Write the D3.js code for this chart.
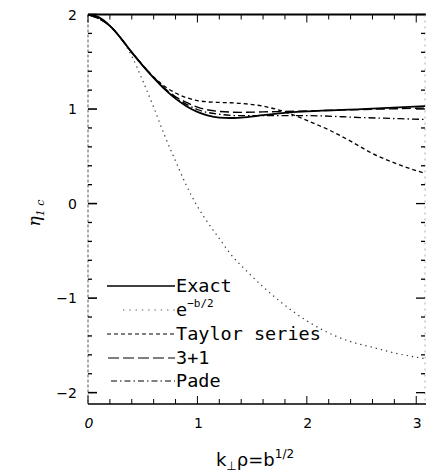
<!DOCTYPE html>
<html><head><meta charset="utf-8">
<script src="https://cdn.jsdelivr.net/npm/d3@7"></script>
<style>html,body{margin:0;padding:0;background:#fff;} svg{display:block;}</style>
</head><body>
<svg id="chart" width="426" height="473"></svg>
<script>
// ---- data ----
const xTicks = [0, 1, 2, 3];
const yTicks = [2, 1, 0, -1, -2];
const legendLabels = ["Exact", "e", "Taylor series", "3+1", "Pade"];

const exact = [[0,2.0],[0.1,1.97],[0.2,1.88],[0.3,1.75],[0.4,1.60],[0.5,1.46],[0.6,1.33],[0.7,1.21],[0.8,1.11],[0.9,1.03],[1.0,0.97],[1.1,0.93],[1.2,0.91],[1.3,0.905],[1.4,0.91],[1.6,0.935],[1.8,0.96],[2.0,0.975],[2.5,1.0],[3.08,1.03]];
const expB = [[0,2.0],[0.1,1.97],[0.2,1.88],[0.3,1.75],[0.4,1.56],[0.5,1.30],[0.6,1.02],[0.7,0.72],[0.8,0.45],[0.9,0.19],[1.0,-0.03],[1.1,-0.21],[1.2,-0.37],[1.3,-0.53],[1.43,-0.69],[1.6,-0.88],[1.75,-1.03],[2.0,-1.24],[2.15,-1.34],[2.4,-1.46],[2.6,-1.52],[2.8,-1.58],[3.08,-1.64]];
const taylor = [[0,2.0],[0.2,1.88],[0.4,1.60],[0.6,1.34],[0.7,1.24],[0.8,1.17],[0.9,1.12],[1.0,1.09],[1.1,1.075],[1.2,1.07],[1.4,1.06],[1.6,1.03],[1.8,0.97],[2.0,0.88],[2.2,0.78],[2.4,0.66],[2.6,0.53],[2.8,0.43],[3.08,0.32]];
const threePlusOne = [[0,2.0],[0.2,1.88],[0.4,1.60],[0.6,1.335],[0.7,1.22],[0.8,1.13],[0.9,1.07],[1.0,1.02],[1.1,0.99],[1.2,0.975],[1.4,0.965],[1.6,0.97],[2.0,0.98],[2.5,0.995],[3.08,1.01]];
const pade = [[0,2.0],[0.2,1.88],[0.4,1.60],[0.6,1.33],[0.7,1.215],[0.8,1.12],[0.9,1.05],[1.0,0.995],[1.2,0.945],[1.4,0.93],[1.6,0.93],[2.0,0.93],[2.5,0.91],[3.08,0.89]];

// ---- layout ----
const svg = d3.select("#chart");
const x = d3.scaleLinear().domain([0, 3.08]).range([88, 425]);
const y = d3.scaleLinear().domain([-2.12, 2]).range([404, 14.5]);

svg.append("defs").append("clipPath").attr("id","clip")
  .append("rect").attr("x",88).attr("y",14.5).attr("width",337).attr("height",389.5);

// axes frame
const g = svg.append("g");
g.append("line").attr("x1",x(0)).attr("x2",426).attr("y1",y(2)).attr("y2",y(2)).attr("stroke","#000").attr("stroke-width",2);
g.append("line").attr("x1",x(0)).attr("x2",426).attr("y1",y(-2.12)).attr("y2",y(-2.12)).attr("stroke","#000").attr("stroke-width",1.6);
g.append("line").attr("x1",x(0)).attr("x2",x(0)).attr("y1",y(2)).attr("y2",y(-2.12)).attr("stroke","#555").attr("stroke-width",1).attr("stroke-dasharray","3,2");
g.append("line").attr("x1",x(3.08)).attr("x2",x(3.08)).attr("y1",y(2)).attr("y2",y(-2.12)).attr("stroke","#999").attr("stroke-width",0.8).attr("stroke-dasharray","2,4");

// minor & major ticks (inward)
const xMinor = d3.range(0, 3.09, 0.2);
xMinor.forEach(v => {
  const major = Math.abs(v - Math.round(v)) < 1e-6;
  const len = major ? 8 : 5;
  g.append("line").attr("x1",x(v)).attr("x2",x(v)).attr("y1",y(2)).attr("y2",y(2)+len).attr("stroke","#000").attr("stroke-width",1);
  g.append("line").attr("x1",x(v)).attr("x2",x(v)).attr("y1",y(-2.12)).attr("y2",y(-2.12)-len).attr("stroke","#000").attr("stroke-width",1);
});
const yMinor = d3.range(-2, 2.01, 0.2);
yMinor.forEach(v => {
  const major = Math.abs(v - Math.round(v)) < 1e-6;
  const len = major ? 9 : 4;
  g.append("line").attr("x1",x(0)).attr("x2",x(0)+len).attr("y1",y(v)).attr("y2",y(v)).attr("stroke","#000").attr("stroke-width",major?1.6:1.3);
  g.append("line").attr("x1",x(3.08)).attr("x2",x(3.08)-len).attr("y1",y(v)).attr("y2",y(v)).attr("stroke","#000").attr("stroke-width",1.3);
});

// tick labels
const tickFont = "'DejaVu Sans', sans-serif";
xTicks.forEach(v => {
  g.append("text").attr("x",x(v)+1).attr("y",428).attr("text-anchor","middle")
    .attr("font-family",tickFont).attr("font-size",14).attr("font-style", v===0?"italic":"normal").text(String(v));
});
yTicks.forEach(v => {
  g.append("text").attr("x",77).attr("y",y(v)+5).attr("text-anchor","end")
    .attr("font-family",tickFont).attr("font-size",14).text(v < 0 ? "\u2212" + Math.abs(v) : String(v));
});

// axis titles
const xt = svg.append("text").attr("x",255).attr("y",466).attr("text-anchor","middle")
  .attr("font-family",tickFont).attr("font-size",18);
xt.append("tspan").text("k");
xt.append("tspan").attr("font-size",12).attr("dy",4).text("\u22A5");
xt.append("tspan").attr("dy",-4).text("\u03C1=b");
xt.append("tspan").attr("font-size",12).attr("dy",-8).text("1/2");

const yt = svg.append("text").attr("transform","translate(40,213) rotate(-90)").attr("text-anchor","middle")
  .attr("font-family","'DejaVu Serif', serif").attr("font-size",17).attr("font-style","italic");
yt.append("tspan").text("\u03B7");
yt.append("tspan").attr("font-size",11).attr("dy",4).text("1 c");

// curves
const line = d3.line().x(d => x(d[0])).y(d => y(d[1])).curve(d3.curveMonotoneX);
const curves = svg.append("g").attr("clip-path","url(#clip)");
const series = [
  {data: expB, dash: "1.3,4", w: 1.2, c: "#333"},
  {data: taylor, dash: "4,3", w: 1.3, c: "#000"},
  {data: threePlusOne, dash: "9,4", w: 1.4, c: "#000"},
  {data: pade, dash: "7,3,1.5,3", w: 1.3, c: "#000"},
  {data: exact, dash: null, w: 1.8, c: "#000"}
];
series.forEach(s => {
  curves.append("path").attr("d", line(s.data)).attr("fill","none").attr("stroke",s.c)
    .attr("stroke-width",s.w).attr("stroke-dasharray",s.dash);
});

// legend
const legend = svg.append("g");
const legY = [286, 310, 334, 358, 381];
const legDash = [null, "1.3,5", "4,3", "11,4", "6,3,1.5,3"];
const legX1 = [107, 123, 107, 108, 111];
const legFont = "'DejaVu Sans Mono', monospace";
legendLabels.forEach((lab, i) => {
  legend.append("line").attr("x1",legX1[i]).attr("x2",175).attr("y1",legY[i]).attr("y2",legY[i])
    .attr("stroke", i===1?"#555":"#000").attr("stroke-width", i===0?1.5:1.2).attr("stroke-dasharray", legDash[i]);
  const t = legend.append("text").attr("x",176).attr("y",legY[i]+6).attr("font-family",legFont).attr("font-size",18.5).text(lab);
  if (i === 1) {
    t.append("tspan").attr("font-size",11).attr("dy",-9).text("\u2212b/2");
  }
});
</script>
</body></html>
